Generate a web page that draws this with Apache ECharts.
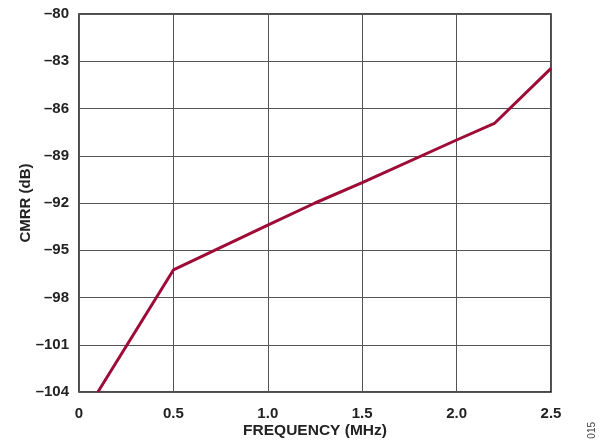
<!DOCTYPE html>
<html><head><meta charset="utf-8">
<script src="https://cdn.jsdelivr.net/npm/echarts@6/dist/echarts.min.js"></script>
<style>html,body{margin:0;padding:0;background:#fff}#c{width:604px;height:448px}</style>
</head><body><div id="c"></div>
<script>
const freqMHz = [0.1, 0.5, 1.0, 1.25, 1.5, 2.0, 2.2, 2.5];
const cmrrDb = [-104, -96.25, -93.4, -92.0, -90.7, -88.0, -86.95, -83.45];
const xTicks = ['0', '0.5', '1.0', '1.5', '2.0', '2.5'];
const yTicks = [-104, -101, -98, -95, -92, -89, -86, -83, -80];

const chart = echarts.init(document.getElementById('c'));
const font = 'Liberation Sans, Arial, sans-serif';
chart.setOption({
  animation: false,
  grid: { left: 79, right: 53, top: 14, bottom: 56, show: true, borderColor: '#111', borderWidth: 1.5, backgroundColor: 'transparent' },
  xAxis: {
    type: 'value', min: 0, max: 2.5, interval: 0.5,
    name: 'FREQUENCY (MHz)', nameLocation: 'middle', nameGap: 31, nameMoveOverlap: false,
    nameTextStyle: { fontFamily: font, fontWeight: 'bold', fontSize: 15.5, color: '#222' },
    axisLine: { show: false }, axisTick: { show: false },
    axisLabel: { margin: 14, fontFamily: font, fontWeight: 'bold', fontSize: 15, color: '#222',
      formatter: v => xTicks[Math.round(v / 0.5)] },
    splitLine: { show: true, lineStyle: { color: '#555', width: 1 } }
  },
  yAxis: {
    type: 'value', min: -104, max: -80, interval: 3,
    name: 'CMRR (dB)', nameLocation: 'middle', nameGap: 46, nameRotate: 90, nameMoveOverlap: false,
    nameTextStyle: { fontFamily: font, fontWeight: 'bold', fontSize: 15, color: '#222' },
    axisLine: { show: false }, axisTick: { show: false },
    axisLabel: { margin: 10, fontFamily: font, fontWeight: 'bold', fontSize: 15, color: '#222',
      formatter: v => (yTicks.includes(v) ? (v < 0 ? '\u2013' + Math.abs(v) : String(v)) : '') },
    splitLine: { show: true, lineStyle: { color: '#555', width: 1 } }
  },
  graphic: [{
    type: 'text', left: 587, top: 422, rotation: Math.PI / 2,
    style: { text: '015', fontFamily: font, fontSize: 10, fill: '#444' }
  }],
  series: [{
    type: 'line', data: freqMHz.map((f, i) => [f, cmrrDb[i]]),
    showSymbol: false, lineStyle: { color: '#9E0B36', width: 3 }, clip: true
  }]
});
</script></body></html>
